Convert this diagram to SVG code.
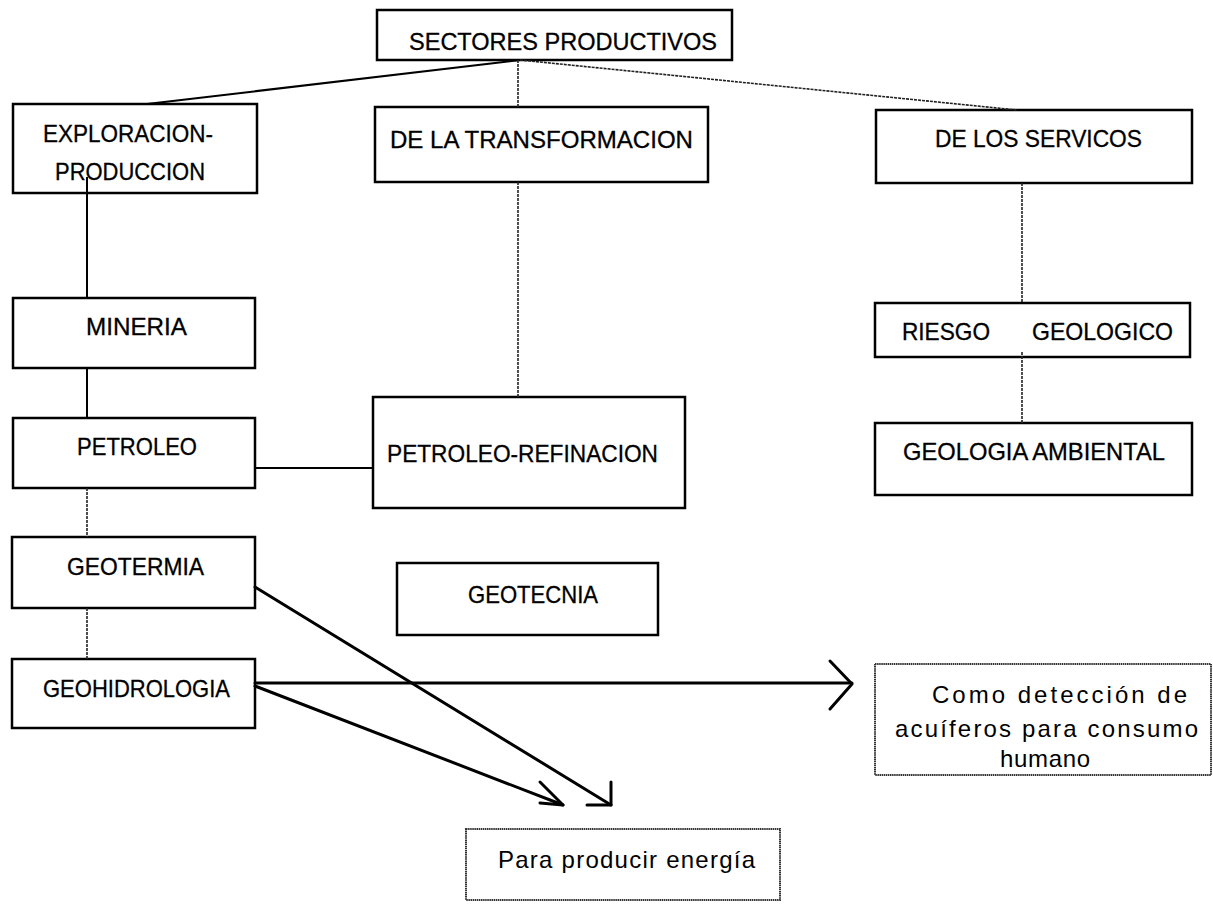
<svg xmlns="http://www.w3.org/2000/svg" width="1213" height="904" viewBox="0 0 1213 904">
<style>
.box{fill:#fff;stroke:#000;stroke-width:2.5}
.obox{fill:none;stroke:#000;stroke-width:2.5}
.gbox{fill:#fff;stroke:#333;stroke-width:2;stroke-dasharray:1.5 0.6}
.t{font-family:"Liberation Sans",Arial,sans-serif;font-size:24px;fill:#000;stroke:#000;stroke-width:0.3}
.t2{font-family:"Liberation Sans",Arial,sans-serif;font-size:24px;fill:#000}
.c{fill:none;stroke:#000;stroke-width:2}
.cs{fill:none;stroke:#222;stroke-width:1.6;stroke-dasharray:3 1}
.a{fill:none;stroke:#000;stroke-width:3;stroke-linecap:round;stroke-linejoin:round}
</style>
<rect width="1213" height="904" fill="#fff"/>
<g id="sectores">
<rect class="box" x="377" y="10" width="355" height="50"/>
<text class="t" x="409" y="50" textLength="308" lengthAdjust="spacingAndGlyphs">SECTORES PRODUCTIVOS</text>
</g>
<g id="exploracion">
<rect class="obox" x="13" y="104" width="244" height="89"/>
<text class="t" x="43" y="142" textLength="170" lengthAdjust="spacingAndGlyphs">EXPLORACION-</text>
<text class="t" x="55" y="180" textLength="150" lengthAdjust="spacingAndGlyphs">PRODUCCION</text>
</g>
<g id="transformacion">
<rect class="box" x="375" y="107" width="333" height="75"/>
<text class="t" x="390" y="148" textLength="303" lengthAdjust="spacingAndGlyphs">DE LA TRANSFORMACION</text>
</g>
<g id="servicios">
<rect class="box" x="876" y="110" width="316" height="73"/>
<text class="t" x="935" y="147" textLength="207" lengthAdjust="spacingAndGlyphs">DE LOS SERVICOS</text>
</g>
<g id="mineria">
<rect class="box" x="13" y="298" width="242" height="70"/>
<text class="t" x="86" y="335" textLength="101" lengthAdjust="spacingAndGlyphs">MINERIA</text>
</g>
<g id="petroleo">
<rect class="box" x="13" y="418" width="242" height="70"/>
<text class="t" x="77" y="455" textLength="120" lengthAdjust="spacingAndGlyphs">PETROLEO</text>
</g>
<g id="refinacion">
<rect class="box" x="373" y="397" width="312" height="111"/>
<text class="t" x="387" y="462" textLength="271" lengthAdjust="spacingAndGlyphs">PETROLEO-REFINACION</text>
</g>
<g id="geotermia">
<rect class="box" x="12" y="537" width="243" height="71"/>
<text class="t" x="67" y="575" textLength="137" lengthAdjust="spacingAndGlyphs">GEOTERMIA</text>
</g>
<g id="geotecnia">
<rect class="box" x="397" y="563" width="261" height="72"/>
<text class="t" x="468" y="603" textLength="130" lengthAdjust="spacingAndGlyphs">GEOTECNIA</text>
</g>
<g id="geohidrologia">
<rect class="box" x="12" y="659" width="243" height="69"/>
<text class="t" x="43" y="697" textLength="187" lengthAdjust="spacingAndGlyphs">GEOHIDROLOGIA</text>
</g>
<g id="riesgo">
<rect class="obox" x="875" y="303" width="315" height="54"/>
<text class="t" x="902" y="340" textLength="88" lengthAdjust="spacingAndGlyphs">RIESGO</text>
<text class="t" x="1032" y="340" textLength="141" lengthAdjust="spacingAndGlyphs">GEOLOGICO</text>
</g>
<g id="ambiental">
<rect class="box" x="875" y="423" width="317" height="72"/>
<text class="t" x="903" y="460" textLength="262" lengthAdjust="spacingAndGlyphs">GEOLOGIA AMBIENTAL</text>
</g>
<g id="acuiferos">
<rect class="gbox" x="875" y="664" width="336" height="111"/>
<text class="t2" x="932" y="703" textLength="255" lengthAdjust="spacing">Como detección de</text>
<text class="t2" x="895" y="737" textLength="303" lengthAdjust="spacing">acuíferos para consumo</text>
<text class="t2" x="1000" y="767" textLength="90" lengthAdjust="spacing">humano</text>
</g>
<g id="energia">
<rect class="gbox" x="466" y="829" width="314" height="71"/>
<text class="t2" x="498" y="868" textLength="257" lengthAdjust="spacing">Para producir energía</text>
</g>
<g id="connectors">
<line class="c" x1="520" y1="60" x2="147" y2="104"/>
<line class="cs" x1="518" y1="60" x2="518" y2="107"/>
<line class="cs" x1="520" y1="60" x2="1017" y2="110"/>
<line class="c" x1="87" y1="177" x2="87" y2="298" stroke-width="1.6"/>
<line class="c" x1="87" y1="368" x2="87" y2="418" stroke-width="1.6"/>
<line class="cs" x1="87" y1="488" x2="87" y2="537"/>
<line class="cs" x1="87" y1="608" x2="87" y2="659"/>
<line class="c" x1="255" y1="468" x2="373" y2="468" stroke-width="2.5"/>
<line class="cs" x1="518" y1="182" x2="518" y2="397"/>
<line class="cs" x1="1022" y1="183" x2="1022" y2="303"/>
<line class="cs" x1="1022" y1="352" x2="1022" y2="423"/>
<polyline class="a" points="255,587 611,805"/>
<polyline class="a" points="611,782 611,805 587,805"/>
<polyline class="a" points="255,686 563,805"/>
<polyline class="a" points="540,782 563,805 540,803"/>
<polyline class="a" points="255,683 852,683"/>
<polyline class="a" points="830,661 852,684 830,709"/>
</g>
</svg>
